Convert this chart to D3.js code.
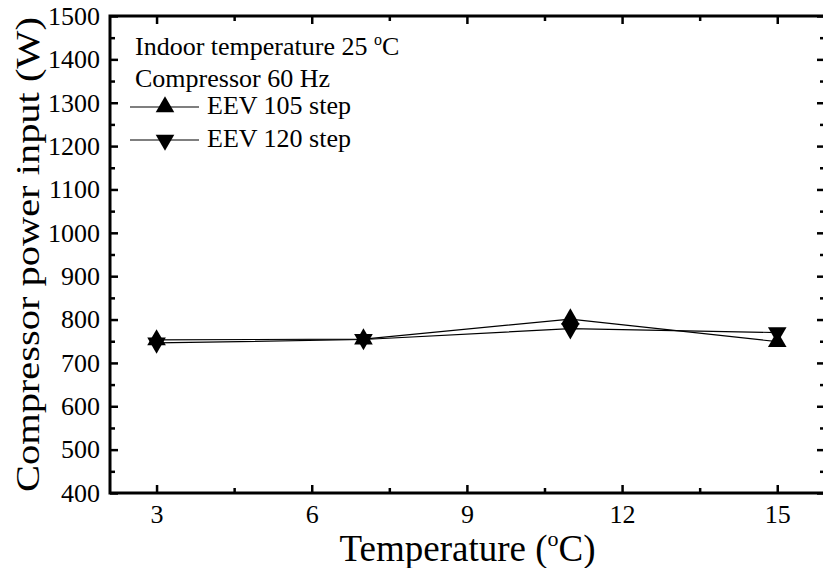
<!DOCTYPE html>
<html>
<head>
<meta charset="utf-8">
<script src="https://cdn.jsdelivr.net/npm/d3@7"></script>
<style>
  body { margin: 0; background: #fff; }
</style>
</head>
<body>
<div id="chart"></div>
<script>
"use strict";

// values
var temps = [3, 7, 11, 15];
var eev105 = [753, 755, 801, 749];
var eev120 = [746, 754, 779, 770];
var xTicks = [3, 6, 9, 12, 15];
var xMinor = [4.5, 7.5, 10.5, 13.5];
var yTicks = [400, 500, 600, 700, 800, 900, 1000, 1100, 1200, 1300, 1400, 1500];
var yMinor = [450, 550, 650, 750, 850, 950, 1050, 1150, 1250, 1350, 1450];
var seriesNames = ["EEV 105 step", "EEV 120 step"];

var serif = "'Liberation Serif', 'Times New Roman', serif";
var width = 823, height = 568;
var plotLeft = 110, plotRight = 825, plotTop = 16, plotBottom = 493;

var svg = d3.select("#chart").append("svg")
    .attr("width", width)
    .attr("height", height)
    .attr("font-family", serif);

var x = d3.scaleLinear().domain([2.1, 15.9]).range([plotLeft, 823.8]);
var y = d3.scaleLinear().domain([400, 1500]).range([plotBottom, plotTop]);

function styleAxis(g) {
    g.attr("font-family", serif).attr("font-size", 26);
    g.select(".domain").remove();
    g.selectAll(".tick line").attr("stroke", "#000").attr("stroke-width", 2.5);
    g.selectAll("text").attr("fill", "#000");
}

// bottom axis
svg.append("g")
    .attr("transform", "translate(0," + plotBottom + ")")
    .call(d3.axisBottom(x).tickValues(xTicks).tickSize(-8).tickSizeOuter(0).tickPadding(12).tickFormat(d3.format("d")))
    .call(styleAxis);
svg.append("g")
    .attr("transform", "translate(0," + plotBottom + ")")
    .call(d3.axisBottom(x).tickValues(xMinor).tickSize(-5).tickSizeOuter(0).tickFormat(""))
    .call(styleAxis);
// top axis, ticks only
svg.append("g")
    .attr("transform", "translate(0," + plotTop + ")")
    .call(d3.axisTop(x).tickValues(xTicks).tickSize(-8).tickSizeOuter(0).tickFormat(""))
    .call(styleAxis);
svg.append("g")
    .attr("transform", "translate(0," + plotTop + ")")
    .call(d3.axisTop(x).tickValues(xMinor).tickSize(-5).tickSizeOuter(0).tickFormat(""))
    .call(styleAxis);
// left axis
svg.append("g")
    .attr("transform", "translate(" + plotLeft + ",0)")
    .call(d3.axisLeft(y).tickValues(yTicks).tickSize(-8).tickSizeOuter(0).tickPadding(10).tickFormat(d3.format("d")))
    .call(styleAxis);
svg.append("g")
    .attr("transform", "translate(" + plotLeft + ",0)")
    .call(d3.axisLeft(y).tickValues(yMinor).tickSize(-5).tickSizeOuter(0).tickFormat(""))
    .call(styleAxis);
// right axis, ticks only
svg.append("g")
    .attr("transform", "translate(" + plotRight + ",0)")
    .call(d3.axisRight(y).tickValues(yTicks).tickSize(-8).tickSizeOuter(0).tickFormat(""))
    .call(styleAxis);
svg.append("g")
    .attr("transform", "translate(" + plotRight + ",0)")
    .call(d3.axisRight(y).tickValues(yMinor).tickSize(-5).tickSizeOuter(0).tickFormat(""))
    .call(styleAxis);

// frame
svg.append("rect")
    .attr("x", plotLeft).attr("y", plotTop)
    .attr("width", plotRight - plotLeft).attr("height", plotBottom - plotTop)
    .attr("fill", "none").attr("stroke", "#000").attr("stroke-width", 3);

// data
var series = [
    { name: seriesNames[0], values: eev105, rot: 0 },
    { name: seriesNames[1], values: eev120, rot: 180 }
];
var line = d3.line()
    .x(function(d, i) { return x(temps[i]); })
    .y(function(d) { return y(d); });
var sym = d3.symbol().type(d3.symbolTriangle).size(150);

series.forEach(function(s) {
    svg.append("path")
        .attr("d", line(s.values))
        .attr("fill", "none")
        .attr("stroke", "#000")
        .attr("stroke-width", 1.2);
});
series.forEach(function(s) {
    svg.selectAll(null)
        .data(s.values)
        .enter().append("path")
        .attr("d", sym)
        .attr("fill", "#000")
        .attr("transform", function(d, i) {
            return "translate(" + x(temps[i]) + "," + y(d) + ") rotate(" + s.rot + ")";
        });
});

// legend
var note = svg.append("text").attr("x", 135).attr("y", 55).attr("font-size", 26);
note.append("tspan").text("Indoor temperature 25 ");
note.append("tspan").attr("font-size", 16).attr("dy", -10).text("o");
note.append("tspan").attr("dy", 10).text("C");
svg.append("text").attr("x", 135).attr("y", 87).attr("font-size", 26).text("Compressor 60 Hz");

series.forEach(function(s, i) {
    var ly = 107 + i * 33;
    svg.append("line")
        .attr("x1", 130).attr("x2", 199)
        .attr("y1", ly).attr("y2", ly)
        .attr("stroke", "#000").attr("stroke-width", 1.2);
    svg.append("path")
        .attr("d", sym)
        .attr("fill", "#000")
        .attr("transform", "translate(165," + ly + ") rotate(" + s.rot + ")");
    svg.append("text")
        .attr("x", 207).attr("y", ly + 7)
        .attr("font-size", 26)
        .text(s.name);
});

// axis titles
var xt = svg.append("text")
    .attr("x", (plotLeft + plotRight) / 2).attr("y", 561)
    .attr("text-anchor", "middle")
    .attr("font-size", 37);
xt.append("tspan").text("Temperature (");
xt.append("tspan").attr("font-size", 22).attr("dy", -15).text("o");
xt.append("tspan").attr("dy", 15).text("C)");

svg.append("text")
    .attr("transform", "translate(39," + (plotBottom + plotTop) / 2 + ") rotate(-90)")
    .attr("text-anchor", "middle")
    .attr("font-size", 34)
    .attr("textLength", 475)
    .attr("lengthAdjust", "spacingAndGlyphs")
    .text("Compressor power input (W)");
</script>
</body>
</html>
